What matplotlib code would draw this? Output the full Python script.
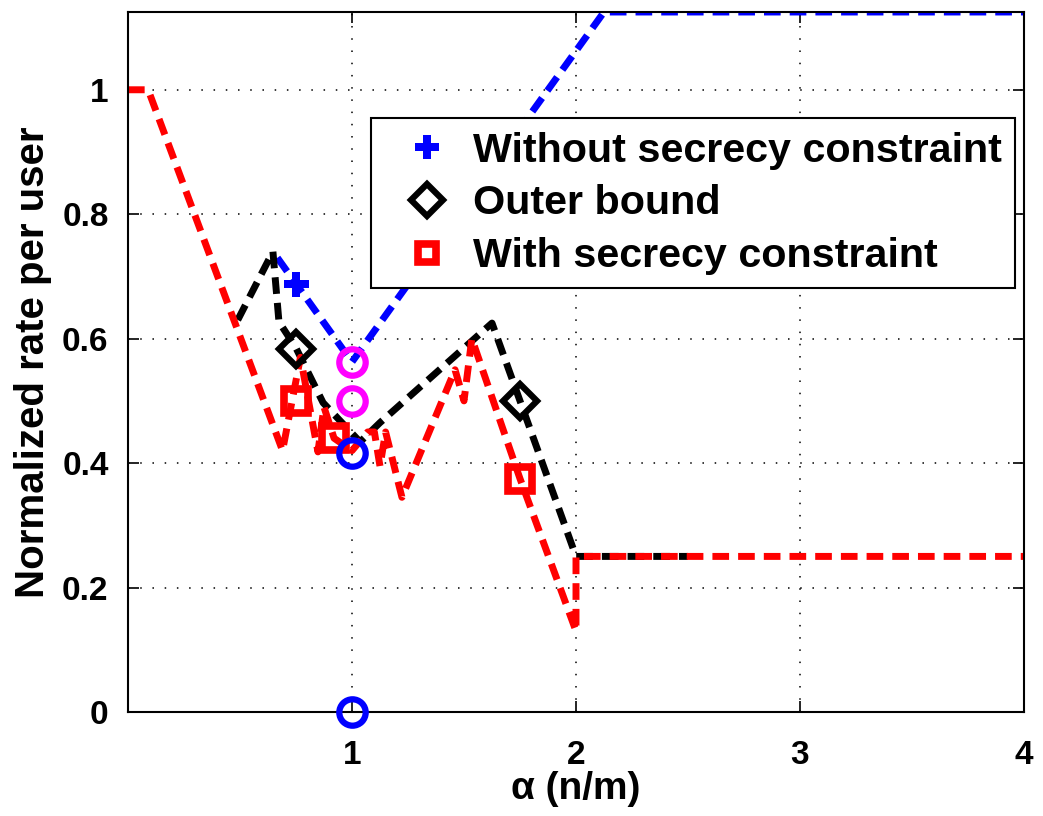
import matplotlib
matplotlib.use("Agg")
import matplotlib.pyplot as plt
from matplotlib.lines import Line2D

plt.rcParams["font.family"] = ["Liberation Sans", "DejaVu Sans"]
plt.rcParams["font.weight"] = "bold"

# rate curves, alpha = n/m on the x axis
alpha_free = [0.667, 1.0, 2.125, 4.0]
rate_free = [0.73, 0.5625, 1.125, 1.125]

alpha_outer = [0.49, 0.647, 0.674, 0.75, 0.871, 1.036, 1.125, 1.625, 1.75, 2.0, 2.5]
rate_outer = [0.63, 0.74, 0.627, 0.585, 0.497, 0.434, 0.465, 0.625, 0.5, 0.25, 0.25]

alpha_secret = [0.0, 0.09, 0.69, 0.77, 0.848, 0.875, 0.92, 1.0, 1.07, 1.1, 1.125,
                1.15, 1.223, 1.46, 1.5, 1.535, 1.75, 2.0, 2.0, 4.0]
rate_secret = [1.0, 1.0, 0.42, 0.57, 0.418, 0.49, 0.44, 0.42, 0.45, 0.45, 0.395,
               0.45, 0.345, 0.55, 0.5, 0.6, 0.375, 0.13, 0.25, 0.25]

# marker positions
free_mark = ([0.75], [0.6875])
outer_mark = ([0.75, 1.75], [0.583, 0.5])
secret_mark = ([0.75, 0.92, 1.75], [0.5, 0.44, 0.375])
magenta_pts = ([1.0, 1.0], [0.5625, 0.5])
blue_pts = ([1.0, 1.0], [0.4167, 0.0])

fig = plt.figure(figsize=(10.43, 8.16), dpi=100)
ax = fig.add_axes([0.1227, 0.1275, 0.8591, 0.8578])

dash = (2.4, 1.3)
lw = 5
ax.plot(alpha_free, rate_free, color="blue", lw=lw, dashes=dash)
ax.plot(alpha_outer, rate_outer, color="black", lw=lw, dashes=dash)
ax.plot(alpha_secret, rate_secret, color="red", lw=lw, dashes=dash)

ax.plot(*free_mark, ls="none", marker="P", ms=18, color="blue", mew=0, zorder=4)
ax.plot(*outer_mark, ls="none", marker="D", ms=17, mfc="none", mec="black", mew=4.5, zorder=4)
ax.plot(*secret_mark, ls="none", marker="s", ms=17, mfc="none", mec="red", mew=5.5, zorder=4)
ax.plot(*blue_pts, ls="none", marker="o", ms=19, mfc="none", mec="blue", mew=4.5,
        clip_on=False, zorder=5)
ax.plot(*magenta_pts, ls="none", marker="o", ms=19, mfc="none", mec="magenta", mew=4.5, zorder=5)

ax.set_xlim(0, 4)
ax.set_ylim(0, 1.125)
ax.set_xticks([1, 2, 3, 4])
ax.set_yticks([0, 0.2, 0.4, 0.6, 0.8, 1.0])
ax.set_yticklabels(["0", "0.2", "0.4", "0.6", "0.8", "1"])
ax.tick_params(direction="in", length=8, width=1.2, top=True, right=True, labelsize=24)
ax.tick_params(axis="x", pad=20)
ax.tick_params(axis="y", pad=14)
for lab in ax.get_xticklabels() + ax.get_yticklabels():
    lab.set_fontweight("bold")
ax.grid(True, color="black", ls=(0, (1, 7)), lw=1.1)
for sp in ax.spines.values():
    sp.set_linewidth(1.5)

ax.set_xlabel("α (n/m)", fontsize=28, fontweight="bold", labelpad=0)
ax.set_ylabel("Normalized rate per user", fontsize=29, fontweight="bold", labelpad=7)

handles = [
    Line2D([], [], ls="none", marker="P", ms=17, color="blue", mew=0),
    Line2D([], [], ls="none", marker="D", ms=16, mfc="none", mec="black", mew=4.5),
    Line2D([], [], ls="none", marker="s", ms=13, mfc="none", mec="red", mew=5.5),
]
labels = ["Without secrecy constraint", "Outer bound", "With secrecy constraint"]
leg = ax.legend(handles, labels, loc="upper left", bbox_to_anchor=(0.271, 0.848),
                prop={"size": 29.7, "weight": "bold"}, fancybox=False,
                edgecolor="black", framealpha=1, borderpad=0.32, labelspacing=0.36,
                handletextpad=0.05, handlelength=2.1, borderaxespad=0)
leg.get_frame().set_linewidth(1.5)

fig.savefig("out.png", dpi=100)
